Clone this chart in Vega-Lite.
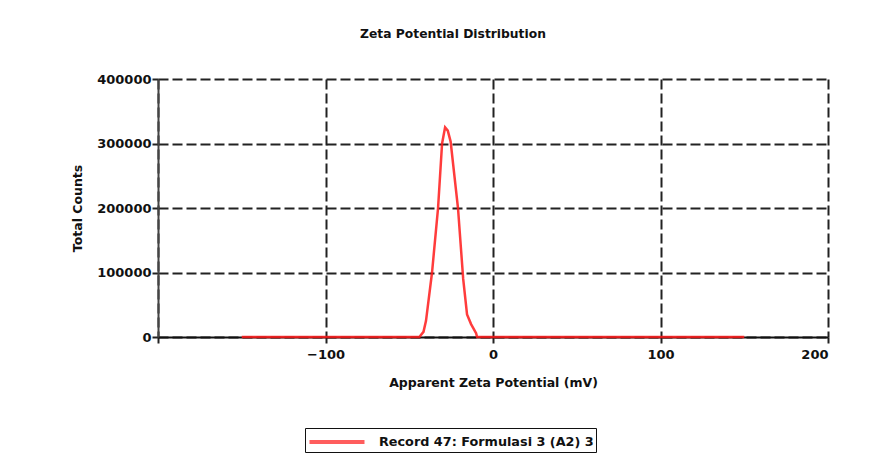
{
  "$schema": "https://vega.github.io/schema/vega-lite/v6.json",
  "width": 670,
  "height": 258,
  "autosize": {"type": "none"},
  "padding": {"left": 158, "top": 79, "right": 57, "bottom": 124},
  "background": "white",
  "title": {
    "text": "Zeta Potential Distribution",
    "font": "DejaVu Sans",
    "fontSize": 12.3,
    "fontWeight": "bold",
    "color": "#111",
    "anchor": "middle",
    "dx": -40,
    "offset": 33
  },
  "config": {
    "view": {"stroke": null},
    "axis": {
      "labelFont": "DejaVu Sans",
      "labelFontSize": 13,
      "labelFontWeight": "bold",
      "labelColor": "#111",
      "titleFont": "DejaVu Sans",
      "titleFontSize": 12.5,
      "titleFontWeight": "bold",
      "titleColor": "#111",
      "gridColor": "#222",
      "gridDash": [10, 4],
      "gridWidth": 2,
      "gridOpacity": 1,
      "domainColor": "#222",
      "domainWidth": 2,
      "tickColor": "#222",
      "tickWidth": 2,
      "tickSize": 6
    }
  },
  "data": {
    "values": [
      {"mv": -150, "counts": 0, "series": "Record 47: Formulasi 3 (A2) 3"},
      {"mv": -44, "counts": 0, "series": "Record 47: Formulasi 3 (A2) 3"},
      {"mv": -41.5, "counts": 8000, "series": "Record 47: Formulasi 3 (A2) 3"},
      {"mv": -40, "counts": 25000, "series": "Record 47: Formulasi 3 (A2) 3"},
      {"mv": -36.4, "counts": 100000, "series": "Record 47: Formulasi 3 (A2) 3"},
      {"mv": -32.8, "counts": 200000, "series": "Record 47: Formulasi 3 (A2) 3"},
      {"mv": -30.4, "counts": 300000, "series": "Record 47: Formulasi 3 (A2) 3"},
      {"mv": -28.6, "counts": 325000, "series": "Record 47: Formulasi 3 (A2) 3"},
      {"mv": -27, "counts": 320000, "series": "Record 47: Formulasi 3 (A2) 3"},
      {"mv": -25.3, "counts": 303000, "series": "Record 47: Formulasi 3 (A2) 3"},
      {"mv": -20.9, "counts": 200000, "series": "Record 47: Formulasi 3 (A2) 3"},
      {"mv": -17.8, "counts": 90000, "series": "Record 47: Formulasi 3 (A2) 3"},
      {"mv": -15.5, "counts": 35000, "series": "Record 47: Formulasi 3 (A2) 3"},
      {"mv": -13.1, "counts": 20000, "series": "Record 47: Formulasi 3 (A2) 3"},
      {"mv": -10.1, "counts": 6000, "series": "Record 47: Formulasi 3 (A2) 3"},
      {"mv": -9.5, "counts": 0, "series": "Record 47: Formulasi 3 (A2) 3"},
      {"mv": 150, "counts": 0, "series": "Record 47: Formulasi 3 (A2) 3"}
    ]
  },
  "mark": {"type": "line", "strokeWidth": 2.5, "opacity": 0.85, "clip": false},
  "encoding": {
    "x": {
      "field": "mv",
      "type": "quantitative",
      "scale": {"domain": [-200, 200], "nice": false, "zero": false},
      "axis": {
        "title": "Apparent Zeta Potential (mV)",
        "values": [-200, -100, 0, 100, 200],
        "format": "d",
        "labelExpr": "datum.value == -200 ? '' : datum.label",
        "labelPadding": 5,
        "titlePadding": 15,
        "domainColor": "#111"
      }
    },
    "y": {
      "field": "counts",
      "type": "quantitative",
      "scale": {"domain": [0, 400000], "nice": false},
      "axis": {
        "title": "Total Counts",
        "values": [0, 100000, 200000, 300000, 400000],
        "format": "d",
        "labelPadding": 1,
        "titlePadding": 12,
        "domainColor": "#444"
      }
    },
    "color": {
      "field": "series",
      "type": "nominal",
      "scale": {"range": ["#ff1a1a"]},
      "legend": {
        "title": null,
        "orient": "none",
        "legendX": 147,
        "legendY": 349,
        "symbolType": "M-2.75,0H2.75",
        "symbolSize": 400,
        "symbolStrokeWidth": 4,
        "symbolOpacity": 0.7,
        "symbolOffset": 18,
        "labelOffset": 30,
        "labelLimit": 400,
        "labelFont": "DejaVu Sans",
        "labelFontSize": 12.8,
        "labelFontWeight": "bold",
        "labelColor": "#111",
        "strokeColor": "#111",
        "fillColor": "white",
        "padding": 2
      }
    }
  }
}
